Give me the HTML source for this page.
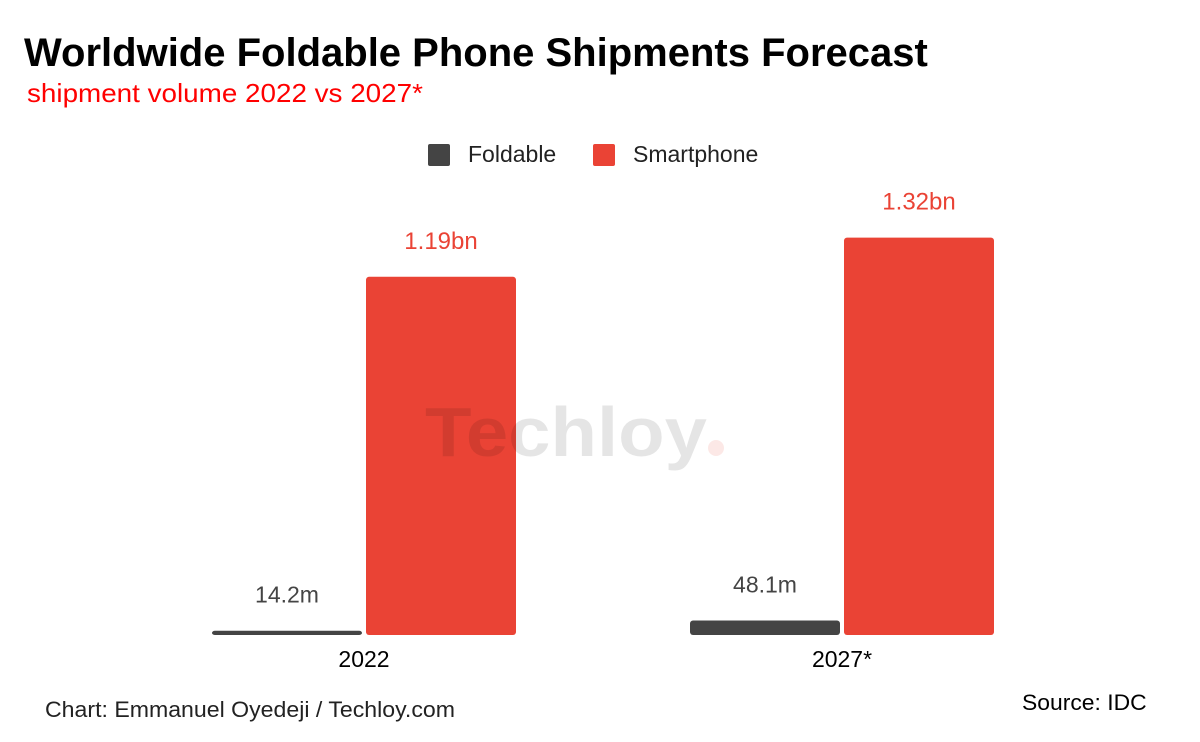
<!DOCTYPE html>
<html><head><meta charset="utf-8"><style>
body{margin:0;width:1200px;height:742px;background:#fff;font-family:"Liberation Sans",sans-serif;overflow:hidden;position:relative}
.t{position:absolute;white-space:nowrap}
</style></head><body>
<div class="t" style="left:24px;top:31px;font-size:40px;font-weight:bold;color:#000">Worldwide Foldable Phone Shipments Forecast</div>
<div class="t" style="left:27px;top:78px;font-size:26px;color:#f00;transform:scaleX(1.07);transform-origin:left">shipment volume 2022 vs 2027*</div>
<div class="t" style="left:428px;top:141px;font-size:23px;color:#222"><span style="display:inline-block;width:22px;height:22px;background:#444;border-radius:2px;vertical-align:-4px;margin-right:18px"></span>Foldable</div>
<div class="t" style="left:593px;top:141px;font-size:23px;color:#222"><span style="display:inline-block;width:22px;height:22px;background:#ea4335;border-radius:2px;vertical-align:-4px;margin-right:18px"></span>Smartphone</div>
<svg width="1200" height="742" style="position:absolute;left:0;top:0" id="chart">
<g id="bars"></g>
<text x="425" y="456" font-size="70" font-weight="bold" fill="#000" fill-opacity="0.1" font-family="Liberation Sans, sans-serif" textLength="282" lengthAdjust="spacingAndGlyphs">Techloy</text>
<circle cx="716" cy="448" r="8" fill="#ea4335" fill-opacity="0.12"/>
</svg>
<div class="t" style="left:45px;top:697px;font-size:22px;color:#222;transform:scaleX(1.05);transform-origin:left">Chart: Emmanuel Oyedeji / Techloy.com</div>
<div class="t" style="left:1022px;top:690px;font-size:22px;color:#000;transform:scaleX(1.04);transform-origin:left">Source: IDC</div>
<script>
const categories=["2022","2027*"];
const foldable=[0.0142,0.0481];
const smartphone=[1.19,1.32];
const foldLabels=["14.2m","48.1m"];
const smartLabels=["1.19bn","1.32bn"];
const base=635, pxPerBn=301;
const y=v=>base-v*pxPerBn;
const groupX=i=>212+i*478;
const g=document.getElementById('bars');
const NS="http://www.w3.org/2000/svg";
function mk(tag,attrs){const e=document.createElementNS(NS,tag);for(const k in attrs)e.setAttribute(k,attrs[k]);g.appendChild(e);return e;}
categories.forEach((c,i)=>{
  const x0=groupX(i);
  const f=mk('rect',{x:x0,y:y(foldable[i]),width:150,height:base-y(foldable[i]),rx:3,fill:'#444'});
  
  
  const s=mk('rect',{x:x0+154,y:y(smartphone[i]),width:150,height:base-y(smartphone[i]),rx:3,fill:'#ea4335'});
  
  
  const fl=mk('text',{x:x0+75,y:y(foldable[i])-28,'text-anchor':'middle','font-size':23,fill:'#444','font-family':'Liberation Sans, sans-serif'});
  fl.textContent=foldLabels[i];
  
  
  const sl=mk('text',{x:x0+229,y:y(smartphone[i])-28,'text-anchor':'middle','font-size':24,fill:'#ea4335','font-family':'Liberation Sans, sans-serif'});
  sl.textContent=smartLabels[i];
  
  
  const cl=mk('text',{x:x0+152,y:667,'text-anchor':'middle','font-size':23,fill:'#000','font-family':'Liberation Sans, sans-serif'});
  cl.textContent=c;
  
  
});
</script>
</body></html>
